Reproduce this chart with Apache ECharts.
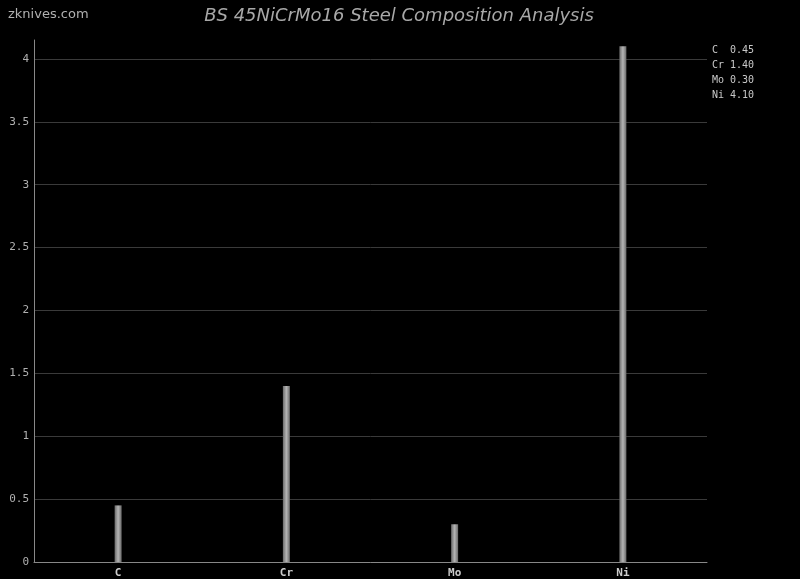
<!DOCTYPE html>
<html><head><meta charset="utf-8">
<script src="https://cdn.jsdelivr.net/npm/echarts@6/dist/echarts.min.js"></script>
<style>html,body{margin:0;padding:0;background:#000}#c{width:800px;height:579px}</style>
</head><body><div id="c"></div>
<script>
const categories = ['C', 'Cr', 'Mo', 'Ni'];
const values = [0.45, 1.40, 0.30, 4.10];
const titleText = 'BS 45NiCrMo16 Steel Composition Analysis';
const watermark = 'zknives.com';

const legendLines = categories.map((c, i) => (c + '  ').slice(0, 3) + values[i].toFixed(2));

const chart = echarts.init(document.getElementById('c'));
chart.setOption({
  backgroundColor: '#000',
  animation: false,
  title: [{
    text: titleText, left: 399, top: 7, padding: 0, textAlign: 'center',
    textStyle: { color: '#a8a8a8', fontSize: 18, fontStyle: 'italic', fontWeight: 'normal', fontFamily: 'DejaVu Sans' }
  }, {
    text: watermark, left: 8, top: 8, padding: 0,
    textStyle: { color: '#b0b0b0', fontSize: 13, fontWeight: 'normal', fontFamily: 'DejaVu Sans' }
  }, {
    text: legendLines.join('\n'), left: 712, top: 43, padding: 0,
    textStyle: { color: '#c8c8c8', fontSize: 10, lineHeight: 15, fontWeight: 'normal', fontFamily: 'DejaVu Sans Mono' }
  }],
  grid: { left: 34, right: 93, top: 40, bottom: 17, containLabel: false },
  xAxis: {
    type: 'category', data: categories,
    axisLine: { lineStyle: { color: '#888', width: 1 } },
    axisTick: { show: false },
    axisLabel: { color: '#cccccc', fontSize: 11, fontWeight: 'bold', fontFamily: 'DejaVu Sans Mono', margin: 6 }
  },
  yAxis: {
    type: 'value', min: 0, max: 4.15, interval: 0.5,
    axisLine: { show: true, lineStyle: { color: '#888', width: 1 } },
    axisTick: { show: false },
    axisLabel: { color: '#b0b0b0', fontSize: 11, fontFamily: 'DejaVu Sans Mono', margin: 5, showMaxLabel: false },
    splitLine: { show: true, showMaxLine: false, lineStyle: { color: '#3a3a3a', width: 1 } }
  },
  series: [{
    type: 'bar', data: values, barWidth: 7,
    itemStyle: {
      color: new echarts.graphic.LinearGradient(0, 0, 1, 0, [
        { offset: 0, color: '#6a6a6a' },
        { offset: 0.5, color: '#b4b4b4' },
        { offset: 1, color: '#6a6a6a' }
      ])
    }
  }]
});
</script></body></html>
